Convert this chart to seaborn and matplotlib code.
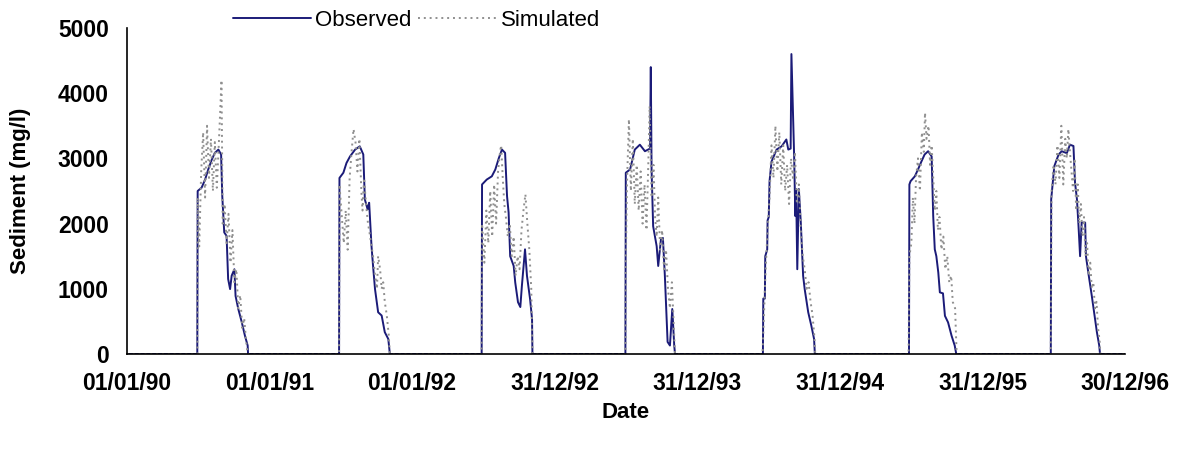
import pandas as pd
import matplotlib.pyplot as plt
import seaborn as sns
import matplotlib

matplotlib.use("Agg")

# days since 01/01/90
obs_days = [0,
            180, 181, 191, 200, 208, 217, 225, 234, 241, 244, 249, 255, 259, 264, 268, 275, 278, 285, 294, 302, 309, 310,
            543, 544, 554, 562, 571, 584, 596, 605, 609, 616, 620, 626, 630, 635, 643, 652, 660, 669, 673,
            908, 909, 921, 934, 943, 952, 960, 968, 973, 977, 981, 990, 994, 1001, 1007, 1011, 1019, 1024, 1032, 1037, 1038,
            1276, 1277, 1288, 1300, 1313, 1326, 1334, 1339, 1341, 1343, 1347, 1356, 1360, 1367, 1372, 1377, 1384, 1390, 1396, 1401, 1403,
            1628, 1629, 1633, 1634, 1639, 1640, 1643, 1645, 1650, 1663, 1676, 1688, 1693, 1699, 1701, 1704, 1708, 1711, 1713, 1716, 1720, 1725, 1731, 1735, 1744, 1752, 1759, 1760, 1761,
            2002, 2003, 2006, 2017, 2025, 2034, 2042, 2051, 2060, 2064, 2068, 2072, 2077, 2081, 2089, 2094, 2102, 2111, 2119, 2123,
            2365, 2366, 2374, 2385, 2393, 2406, 2414, 2423, 2427, 2432, 2436, 2440, 2444, 2453, 2455, 2461, 2470, 2477, 2483, 2489, 2491,
            2555]
obs_vals = [0,
            0, 2500, 2550, 2675, 2830, 2980, 3085, 3135, 3060, 2420, 1865, 1810, 1150, 995, 1200, 1300, 890, 690, 485, 280, 130, 0,
            0, 2700, 2780, 2930, 3030, 3135, 3185, 3060, 2370, 2220, 2320, 1655, 1350, 995, 640, 590, 335, 230, 0,
            0, 2600, 2675, 2725, 2830, 3005, 3135, 3085, 2420, 2170, 1500, 1350, 1095, 795, 720, 1045, 1605, 1200, 840, 535, 0,
            0, 2780, 2830, 3135, 3210, 3110, 3135, 3150, 4400, 2830, 1960, 1655, 1350, 1760, 1780, 1200, 185, 130, 690, 130, 0,
            0, 850, 850, 1500, 1600, 2050, 2100, 2650, 2950, 3135, 3185, 3290, 3135, 3150, 4600, 3950, 3030, 2115, 2530, 1300, 2530, 2017, 1197, 994, 640, 433, 230, 100, 0,
            0, 2600, 2650, 2725, 2830, 2955, 3060, 3110, 3030, 2115, 1605, 1500, 1250, 945, 930, 585, 485, 280, 130, 0,
            0, 2370, 2880, 3060, 3110, 3080, 3210, 3190, 2630, 2370, 1960, 1500, 2015, 2015, 1500, 1250, 890, 585, 335, 130, 0,
            0]

sim_days = [0,
            180, 181, 185, 190, 195, 200, 205, 210, 215, 220, 225, 230, 235, 242, 245, 250, 255, 260, 265, 270, 275, 280, 285, 290, 295, 300, 305, 309,
            543, 544, 550, 555, 560, 565, 570, 575, 580, 585, 590, 595, 600, 603, 607, 612, 617, 620, 625, 630, 635, 640, 643, 648, 652, 656, 660, 665, 670, 673,
            908, 909, 915, 920, 925, 930, 935, 940, 945, 950, 955, 958, 962, 966, 970, 975, 980, 985, 990, 995, 1000, 1005, 1010, 1015, 1020, 1025, 1030, 1035, 1038,
            1276, 1277, 1280, 1285, 1290, 1295, 1300, 1305, 1310, 1315, 1320, 1325, 1330, 1335, 1338, 1343, 1348, 1352, 1356, 1360, 1365, 1370, 1375, 1380, 1385, 1390, 1395, 1400, 1403,
            1627, 1630, 1635, 1640, 1645, 1650, 1655, 1660, 1665, 1670, 1675, 1680, 1685, 1690, 1695, 1700, 1705, 1710, 1715, 1720, 1725, 1730, 1735, 1740, 1745, 1750, 1755, 1760, 1762,
            2001, 2003, 2008, 2012, 2016, 2020, 2025, 2030, 2035, 2040, 2043, 2047, 2052, 2056, 2060, 2064, 2068, 2072, 2076, 2080, 2085, 2090, 2095, 2100, 2105, 2110, 2114, 2120, 2124,
            2365, 2367, 2372, 2377, 2382, 2387, 2392, 2397, 2402, 2406, 2410, 2414, 2418, 2422, 2426, 2430, 2434, 2438, 2442, 2446, 2450, 2454, 2458, 2462, 2466, 2470, 2474, 2478, 2482, 2486, 2490, 2492,
            2555]
sim_vals = [0,
            0, 2400, 1650, 2800, 3400, 2400, 3500, 2700, 3300, 2500, 3250, 2550, 3200, 4200, 2000, 2300, 1700, 2150, 1400, 1900, 1100, 1300, 700, 900, 400, 550, 200, 0,
            0, 2600, 2100, 1700, 2200, 1600, 2700, 3100, 3450, 3250, 2800, 3300, 2500, 2200, 2700, 2300, 2000, 1900, 1700, 1500, 1200, 1000, 1500, 1300, 1000, 1100, 800, 600, 300, 0,
            0, 2000, 1400, 2200, 1700, 2500, 1800, 2600, 2000, 2800, 3100, 3200, 2700, 2300, 2100, 1800, 2000, 1500, 1800, 1200, 1500, 1300, 1900, 2200, 2450, 2000, 1600, 1000, 0,
            0, 1400, 2600, 3600, 2500, 3300, 2300, 2900, 2200, 2800, 2000, 2600, 1900, 3000, 3800, 2400, 2900, 2100, 1800, 2400, 1600, 1900, 1300, 1600, 1000, 700, 1100, 400, 0,
            0, 500, 1300, 1900, 2400, 3200, 2700, 3500, 2800, 3400, 2600, 3200, 2500, 2900, 2300, 3000, 2700, 3100, 2300, 2600, 1900, 1500, 1300, 1000, 1100, 800, 600, 250, 0,
            0, 1500, 1700, 2400, 2000, 2700, 3000, 2500, 3400, 3100, 3700, 3300, 3500, 2900, 3200, 2700, 2200, 2500, 1900, 2100, 1600, 1800, 1300, 1500, 1100, 1200, 800, 700, 0,
            0, 2500, 2900, 2600, 3200, 2700, 3500, 2600, 3300, 3000, 3450, 3100, 2800, 2500, 3000, 2200, 2600, 2000, 2300, 1800, 2100, 1500, 1700, 1200, 1400, 1000, 1100, 700, 800, 400, 200, 0,
            0]

tick_days = [0, 365, 730, 1095, 1460, 1825, 2190, 2555]
tick_labels = ["01/01/90", "01/01/91", "01/01/92", "31/12/92", "31/12/93", "31/12/94", "31/12/95", "30/12/96"]

origin = "1990-01-01"
obs = pd.DataFrame({"Date": pd.to_datetime(obs_days, unit="D", origin=origin),
                    "Sediment": obs_vals, "Series": "Observed"})
sim = pd.DataFrame({"Date": pd.to_datetime(sim_days, unit="D", origin=origin),
                    "Sediment": sim_vals, "Series": "Simulated"})
data = pd.concat([obs, sim], ignore_index=True)

sns.set_style("white")
plt.rcParams['font.family'] = ['Liberation Sans', 'DejaVu Sans']
plt.rcParams['text.color'] = 'black'
plt.rcParams['axes.labelcolor'] = 'black'
plt.rcParams['xtick.color'] = 'black'
plt.rcParams['ytick.color'] = 'black'

fig = plt.figure(figsize=(11.8, 4.55), dpi=100)
ax = fig.add_axes([0.1076, 0.222, 0.8458, 0.7165])

sns.lineplot(data=data, x="Date", y="Sediment", hue="Series", style="Series",
             palette={"Observed": "#1b1b78", "Simulated": "#8f8f8f"},
             dashes={"Observed": "", "Simulated": (1, 2)},
             sort=False, estimator=None, ax=ax, linewidth=1.4)

ax.set_xlim(pd.Timestamp(origin), pd.Timestamp(origin) + pd.Timedelta(days=2555))
ax.set_ylim(0, 5000)
ax.set_yticks(range(0, 5001, 1000))
ax.set_xticks(pd.to_datetime(tick_days, unit="D", origin=origin))
ax.set_xticklabels(tick_labels)

for s in ["top", "right"]:
    ax.spines[s].set_visible(False)
for s in ["left", "bottom"]:
    ax.spines[s].set_color("black")
    ax.spines[s].set_linewidth(1.2)

ax.tick_params(axis="both", direction="out", length=6, width=1.2, color="black",
               labelsize=16.5, pad=7)
for lab in ax.get_xticklabels() + ax.get_yticklabels():
    lab.set_fontweight("bold")

ax.set_xlabel("Date", fontsize=16, fontweight="bold", labelpad=5)
ax.set_ylabel("Sediment (mg/l)", fontsize=16, fontweight="bold", labelpad=19)

sns.move_legend(ax, "center", bbox_to_anchor=(0.29, 1.024), ncol=2,
                frameon=False, title=None, fontsize=16, handlelength=3.5,
                columnspacing=0.3, handletextpad=0.2)

fig.savefig("out.png", dpi=100)
